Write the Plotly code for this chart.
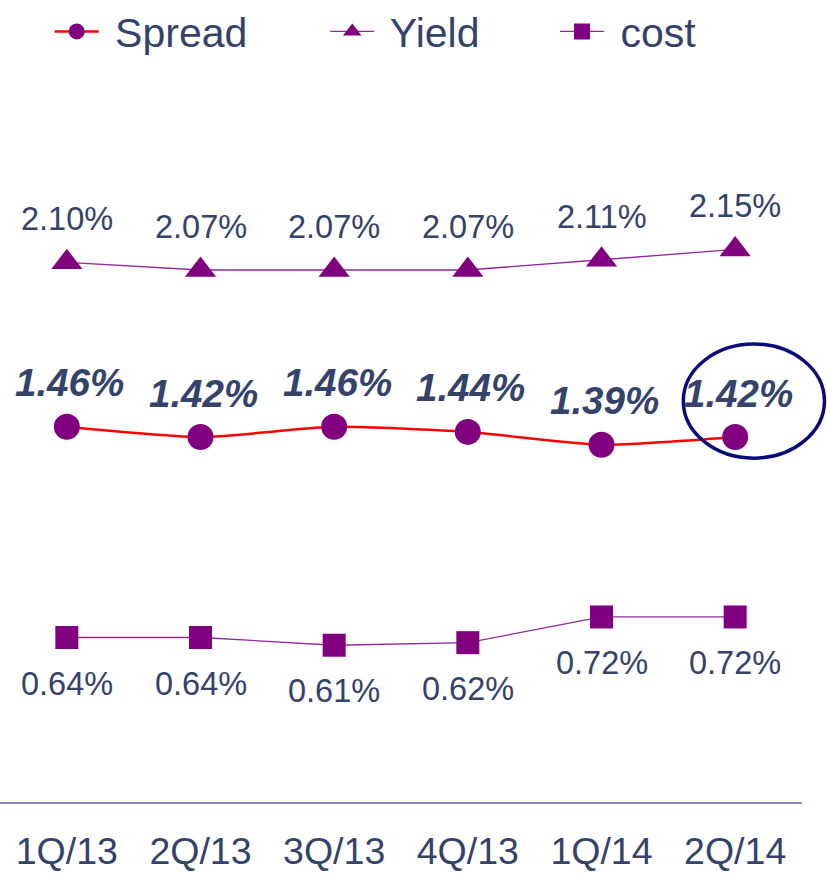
import plotly.graph_objects as go

quarters = ["1Q/13", "2Q/13", "3Q/13", "4Q/13", "1Q/14", "2Q/14"]
spread = [1.46, 1.42, 1.46, 1.44, 1.39, 1.42]
yield_ = [2.10, 2.07, 2.07, 2.07, 2.11, 2.15]
cost = [0.64, 0.64, 0.61, 0.62, 0.72, 0.72]

TXT = "#35426a"
PURPLE = "#800080"
FONT = "Arial, Liberation Sans, sans-serif"

fig = go.Figure()
fig.add_trace(go.Scatter(
    x=quarters, y=spread, name=" Spread", mode="lines+markers",
    line=dict(color="#ff0000", width=2.5, shape="spline", smoothing=0.6),
    marker=dict(symbol="circle", size=26, color=PURPLE),
    legend="legend"))
fig.add_trace(go.Scatter(
    x=quarters, y=yield_, name=" Yield", mode="lines+markers",
    line=dict(color="#93279a", width=1.3),
    marker=dict(symbol="triangle-up", size=27, color=PURPLE),
    legend="legend2"))
fig.add_trace(go.Scatter(
    x=quarters, y=cost, name=" cost", mode="lines+markers",
    line=dict(color="#93279a", width=1.3),
    marker=dict(symbol="square", size=23, color=PURPLE),
    legend="legend3"))

ann = []
for q, v in zip(quarters, yield_):
    ann.append(dict(x=q, y=v, text=f"{v:.2f}%", showarrow=False, yshift=43,
                    font=dict(size=32.5, color=TXT, family=FONT)))
for q, v in zip(quarters, spread):
    ann.append(dict(x=q, y=v, text=f"<b><i>{v:.2f}%</i></b>", showarrow=False, yshift=44,
                    xshift=3, font=dict(size=38.5, color=TXT, family=FONT)))
for q, v in zip(quarters, cost):
    ann.append(dict(x=q, y=v, text=f"{v:.2f}%", showarrow=False, yshift=-46,
                    font=dict(size=32.5, color=TXT, family=FONT)))

leg = dict(orientation="h", yanchor="middle", y=0.999, xanchor="left",
           itemwidth=44, font=dict(size=41, color=TXT, family=FONT),
           bgcolor="rgba(0,0,0,0)")

fig.update_layout(
    width=827, height=874,
    margin=dict(l=0, r=25, t=31, b=72, autoexpand=False),
    plot_bgcolor="white", paper_bgcolor="white",
    annotations=ann,
    legend=dict(leg, x=0.062),
    legend2=dict(leg, x=0.4055),
    legend3=dict(leg, x=0.692),
    shapes=[dict(type="circle", xref="paper", yref="paper",
                 x0=0.852, x1=1.028, y0=0.446, y1=0.594,
                 line=dict(color="#0a0a78", width=3.5))],
    showlegend=True,
)
fig.update_xaxes(type="category", range=[-0.5, 5.5], showline=True,
                 linecolor="#9088b8", linewidth=1.5, showgrid=False,
                 ticks="", ticklabelstandoff=15, automargin=False,
                 tickfont=dict(size=37.5, color=TXT, family=FONT))
fig.update_yaxes(range=[0, 3.0], showgrid=False, zeroline=False,
                 showticklabels=False, showline=False, automargin=False)

fig.write_html("out.html", config={"displayModeBar": False},
               post_script="document.body.style.margin='0px';")
